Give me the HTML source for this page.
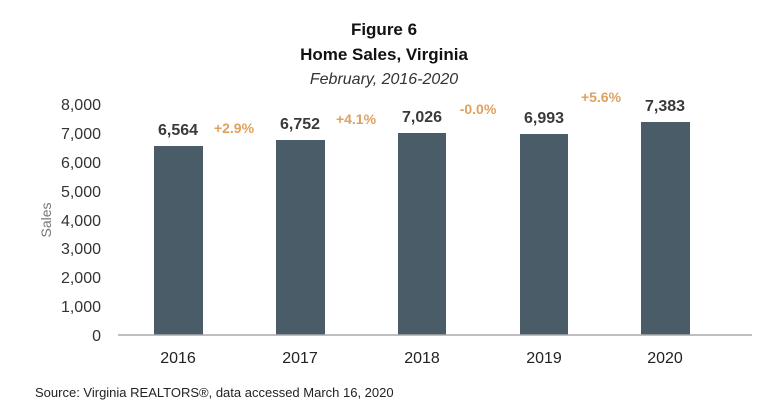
<!DOCTYPE html>
<html><head><style>body{margin:0;background:#fff}svg{display:block}</style></head><body>
<svg width="768" height="418" xmlns="http://www.w3.org/2000/svg" font-family="Liberation Sans, sans-serif">
<rect width="768" height="418" fill="#fff"/>
<text x="384" y="35" text-anchor="middle" font-size="17" font-weight="bold" fill="#111">Figure 6</text>
<text x="384" y="60" text-anchor="middle" font-size="17" font-weight="bold" fill="#111">Home Sales, Virginia</text>
<text x="384" y="84" text-anchor="middle" font-size="16" font-style="italic" fill="#333">February, 2016-2020</text>
<g font-size="16" fill="#333" text-anchor="end">
<text x="101" y="341">0</text><text x="101" y="312">1,000</text><text x="101" y="283">2,000</text><text x="101" y="254">3,000</text><text x="101" y="226">4,000</text><text x="101" y="197">5,000</text><text x="101" y="168">6,000</text><text x="101" y="139">7,000</text><text x="101" y="110">8,000</text>
</g>
<text transform="translate(51,220) rotate(-90)" text-anchor="middle" font-size="14" fill="#777">Sales</text>
<g fill="#4a5c68">
<rect x="154" y="146" width="49" height="189"/>
<rect x="276" y="140" width="49" height="195"/>
<rect x="398" y="133" width="48" height="202"/>
<rect x="520" y="134" width="48" height="201"/>
<rect x="641" y="122" width="49" height="213"/>
</g>
<line x1="118" y1="335" x2="752" y2="335" stroke="#aaa" stroke-width="1.5"/>
<g font-size="16" font-weight="bold" fill="#3a3a3a" text-anchor="middle">
<text x="178" y="135">6,564</text><text x="300" y="129">6,752</text><text x="422" y="122">7,026</text><text x="544" y="123">6,993</text><text x="665" y="111">7,383</text>
</g>
<g font-size="14" font-weight="bold" fill="#e0a060" text-anchor="middle">
<text x="234" y="133">+2.9%</text><text x="356" y="124">+4.1%</text><text x="478" y="114">-0.0%</text><text x="601" y="102">+5.6%</text>
</g>
<g font-size="16" fill="#222" text-anchor="middle">
<text x="178" y="363">2016</text><text x="300" y="363">2017</text><text x="422" y="363">2018</text><text x="544" y="363">2019</text><text x="665" y="363">2020</text>
</g>
<text x="35" y="397" font-size="13" fill="#222">Source: Virginia REALTORS®, data accessed March 16, 2020</text>
</svg>
</body></html>
